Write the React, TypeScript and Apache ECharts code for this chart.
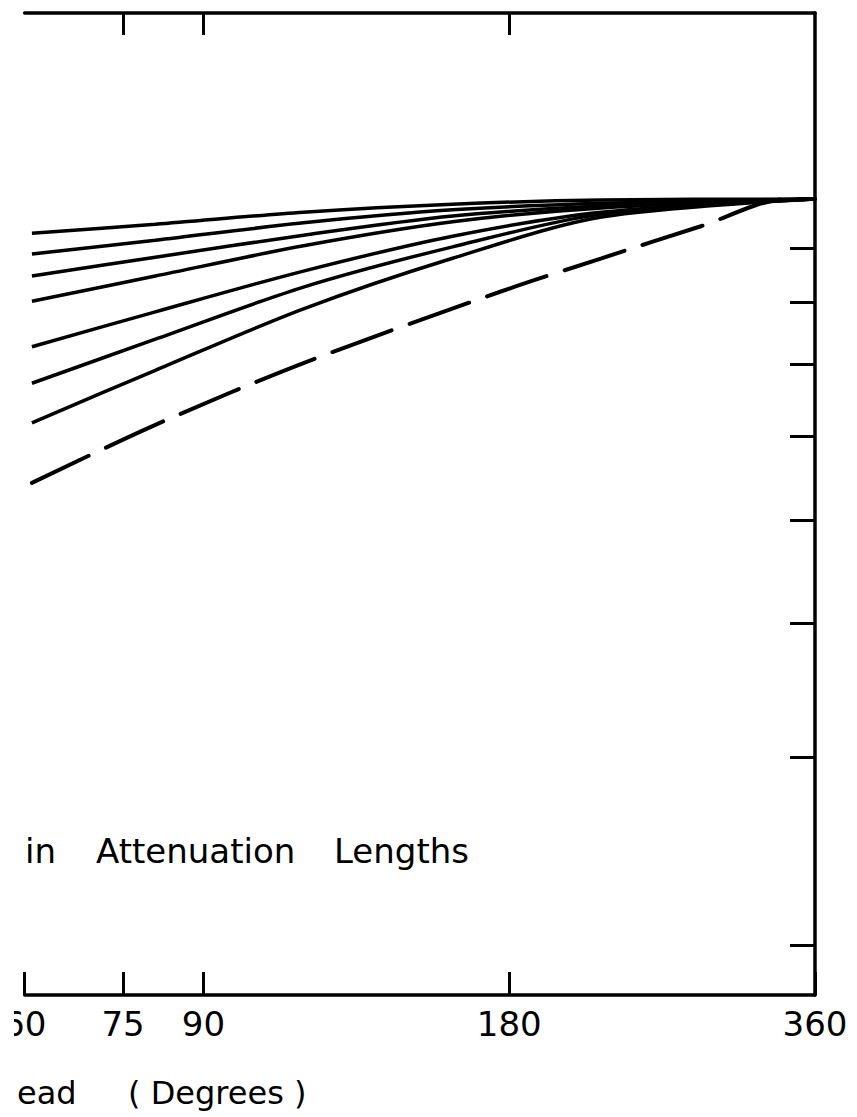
import React, { useEffect, useRef } from "react";
import * as echarts from "echarts";

// Axis ticks (log-log plot)
const xTickValues = [60, 75, 90, 180, 360];
const topTickValues = [75, 90, 180];
const yTickValues = [0.2, 0.3, 0.4, 0.5, 0.6, 0.7, 0.8, 0.9, 1.0];

// Solid family of curves (degrees -> relative value)
const curveX = [61, 80.7, 112.9, 158.3, 221.9, 360];
const curve1 = [0.929, 0.947, 0.972, 0.989, 0.998, 1.0];
const curve2 = [0.888, 0.915, 0.95, 0.977, 0.991, 1.0];
const curve3 = [0.847, 0.882, 0.925, 0.964, 0.985, 1.0];
const curve4 = [0.802, 0.847, 0.904, 0.952, 0.981, 1.0];
const curve5 = [0.727, 0.784, 0.856, 0.923, 0.972, 1.0];
const curve6 = [0.672, 0.739, 0.827, 0.902, 0.968, 1.0];
const curve7 = [0.617, 0.691, 0.789, 0.88, 0.962, 1.0];

// Dashed reference curve
const dashX = [61, 80.6, 112.9, 177.2, 221.9, 277.9, 337.9, 360];
const dashY = [0.542, 0.614, 0.702, 0.82, 0.88, 0.943, 1.0, 1.0];

const FONT = '"DejaVu Sans", "Liberation Sans", sans-serif';

export default function App() {
  const ref = useRef<HTMLDivElement>(null);
  useEffect(() => {
    if (!ref.current) return;
    const chart = echarts.init(ref.current, undefined, { renderer: "svg" });
    const solid = [curve1, curve2, curve3, curve4, curve5, curve6, curve7];
    const series: any[] = solid.map((ys, i) => ({
      type: "line",
      name: "c" + (i + 1),
      data: curveX.map((x, j) => [x, ys[j]]),
      showSymbol: false,
      smooth: 0.3,
      lineStyle: { color: "#000", width: 3.5 },
      silent: true,
    }));
    series.push({
      type: "line",
      name: "dashed",
      data: dashX.map((x, j) => [x, dashY[j]]),
      showSymbol: false,
      smooth: 0.3,
      lineStyle: { color: "#000", width: 4, type: [63, 19], cap: "round" },
      silent: true,
    });
    chart.setOption({
      animation: false,
      backgroundColor: "#fff",
      grid: { left: 19, right: 42, top: 13, bottom: 122 },
      xAxis: [
        {
          type: "log",
          position: "bottom",
          min: 60,
          max: 360,
          axisLine: { show: true, lineStyle: { color: "#000", width: 3.5 } },
          axisTick: {
            show: true,
            inside: true,
            length: 23,
            lineStyle: { color: "#000", width: 3 },
            customValues: xTickValues,
          },
          axisLabel: {
            show: true,
            customValues: xTickValues,
            color: "#000",
            fontSize: 34,
            fontFamily: FONT,
            margin: 12,
            formatter: (v: number) => String(Math.round(v)),
          },
          splitLine: { show: false },
          minorTick: { show: false },
        },
        {
          type: "log",
          position: "top",
          min: 60,
          max: 360,
          axisLine: { show: true, lineStyle: { color: "#000", width: 3.5 } },
          axisTick: {
            show: true,
            inside: true,
            length: 22,
            lineStyle: { color: "#000", width: 3 },
            customValues: topTickValues,
          },
          axisLabel: { show: false },
          splitLine: { show: false },
        },
      ],
      yAxis: {
        type: "log",
        position: "right",
        min: 0.1795,
        max: 1.494,
        axisLine: { show: true, lineStyle: { color: "#000", width: 3.5 } },
        axisTick: {
          show: true,
          inside: true,
          length: 25,
          lineStyle: { color: "#000", width: 3 },
          customValues: yTickValues,
        },
        axisLabel: { show: false },
        splitLine: { show: false },
      },
      graphic: [
        { type: "text", x: 25, y: 851, style: { text: "in", font: `34px ${FONT}`, fill: "#000", verticalAlign: "middle", align: "left" } },
        { type: "text", x: 96, y: 851, style: { text: "Attenuation", font: `34px ${FONT}`, fill: "#000", verticalAlign: "middle", align: "left" } },
        { type: "text", x: 334, y: 851, style: { text: "Lengths", font: `34px ${FONT}`, fill: "#000", verticalAlign: "middle", align: "left" } },
        { type: "text", x: 17, y: 1093, style: { text: "ead", font: `32px ${FONT}`, fill: "#000", verticalAlign: "middle", align: "left" } },
        { type: "text", x: 128, y: 1093, style: { text: "( Degrees )", font: `32px ${FONT}`, fill: "#000", verticalAlign: "middle", align: "left" } },
      ],
      series,
    });
    return () => chart.dispose();
  }, []);
  return (
    <div
      ref={ref}
      style={{
        position: "absolute",
        left: 0,
        top: 0,
        width: 857,
        height: 1117,
        clipPath: "inset(0 0 0 14px)",
      }}
    />
  );
}
